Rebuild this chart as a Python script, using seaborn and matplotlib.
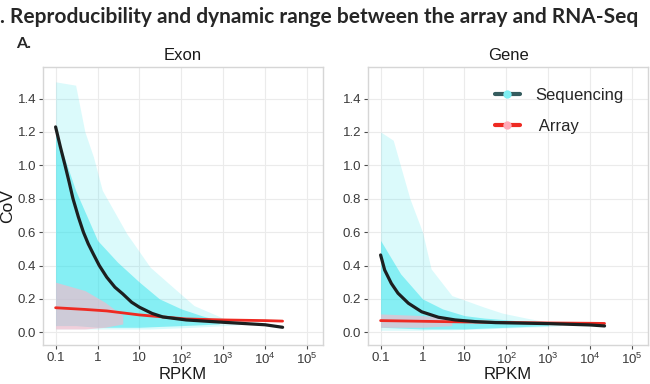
import numpy as np
import matplotlib
matplotlib.use("Agg")
import matplotlib.pyplot as plt
from matplotlib.lines import Line2D
import seaborn as sns

# fitted trend lines (RPKM, CoV)
exon_seq_x = [0.1, 0.13, 0.168, 0.21, 0.26, 0.35, 0.46, 0.6, 0.79, 1.1, 1.66, 2.6, 4, 6.5, 10, 20, 36, 130, 1000, 10000, 26000]
exon_seq_y = [1.23, 1.11, 1.0, 0.9, 0.80, 0.69, 0.6, 0.53, 0.47, 0.40, 0.33, 0.27, 0.23, 0.18, 0.15, 0.113, 0.092, 0.074, 0.06, 0.045, 0.03]
exon_arr_x = [0.1, 0.5, 1.66, 10, 130, 1000, 10000, 26000]
exon_arr_y = [0.147, 0.137, 0.128, 0.104, 0.08, 0.074, 0.07, 0.067]

gene_seq_x = [0.1, 0.125, 0.18, 0.26, 0.46, 0.95, 2.4, 6, 18, 55, 1000, 10000, 22000]
gene_seq_y = [0.463, 0.373, 0.293, 0.234, 0.174, 0.123, 0.09, 0.074, 0.064, 0.058, 0.052, 0.044, 0.038]
gene_arr_x = [0.1, 1, 10, 100, 1000, 10000, 22000]
gene_arr_y = [0.070, 0.066, 0.062, 0.059, 0.056, 0.054, 0.053]

# point clouds, read as envelopes (outer = sparse points, inner = dense core)
exon_cloud_x = [0.1, 0.3, 0.5, 0.8, 1.3, 5, 18, 63, 200, 1100, 2500]
exon_cloud_hi = [1.5, 1.48, 1.2, 1.05, 0.85, 0.59, 0.39, 0.27, 0.16, 0.08, 0.06]
exon_cloud_lo = [0.02, 0.02, 0.02, 0.02, 0.02, 0.02, 0.02, 0.025, 0.03, 0.04, 0.045]
exon_core_x = [0.1, 0.3, 1, 3, 10, 30, 100, 300, 800]
exon_core_hi = [1.2, 0.85, 0.55, 0.42, 0.3, 0.2, 0.14, 0.1, 0.07]
exon_core_lo = [0.04, 0.04, 0.03, 0.03, 0.03, 0.035, 0.04, 0.045, 0.05]
exon_pink_x = [0.1, 0.5, 1.5, 4]
exon_pink_hi = [0.3, 0.25, 0.18, 0.1]
exon_pink_lo = [0.02, 0.02, 0.03, 0.05]

gene_cloud_x = [0.1, 0.2, 0.5, 1, 1.6, 5, 30, 80, 300, 1250, 2000]
gene_cloud_hi = [1.2, 1.15, 0.8, 0.6, 0.38, 0.22, 0.15, 0.115, 0.085, 0.056, 0.05]
gene_cloud_lo = [0.012, 0.012, 0.012, 0.012, 0.015, 0.015, 0.02, 0.025, 0.03, 0.035, 0.04]
gene_core_x = [0.1, 0.3, 1, 3, 10, 30, 100, 300, 1000]
gene_core_hi = [0.55, 0.35, 0.2, 0.14, 0.1, 0.085, 0.075, 0.065, 0.055]
gene_core_lo = [0.03, 0.025, 0.02, 0.02, 0.02, 0.025, 0.03, 0.035, 0.04]
gene_pink_x = [0.1, 1, 5]
gene_pink_hi = [0.11, 0.1, 0.085]
gene_pink_lo = [0.03, 0.03, 0.04]

x_ticks = [0.1, 1, 10, 100, 1000, 10000, 100000]
x_labels = ['0.1', '1', '10', r'$\mathregular{10^{2}}$', r'$\mathregular{10^{3}}$',
            r'$\mathregular{10^{4}}$', r'$\mathregular{10^{5}}$']
y_ticks = [0.0, 0.2, 0.4, 0.6, 0.8, 1.0, 1.2, 1.4]

sns.set_theme(style='whitegrid')
plt.rcParams['font.family'] = ['Liberation Sans', 'DejaVu Sans']
plt.rcParams['mathtext.fontset'] = 'custom'
plt.rcParams['mathtext.rm'] = 'Liberation Sans'

CYAN = '#1fe3ec'
PINK = '#ffb3c6'
SEQ_LINE = '#1c1f1f'
ARR_LINE = '#ee2a22'

fig = plt.figure(figsize=(6.5, 3.84), dpi=100)
ax1 = fig.add_axes([0.0662, 0.1016, 0.4308, 0.724])
ax2 = fig.add_axes([0.5662, 0.1016, 0.4308, 0.724])

panels = [
    (ax1, 'Exon', exon_cloud_x, exon_cloud_hi, exon_cloud_lo, exon_core_x, exon_core_hi, exon_core_lo,
     exon_pink_x, exon_pink_hi, exon_pink_lo, exon_seq_x, exon_seq_y, exon_arr_x, exon_arr_y),
    (ax2, 'Gene', gene_cloud_x, gene_cloud_hi, gene_cloud_lo, gene_core_x, gene_core_hi, gene_core_lo,
     gene_pink_x, gene_pink_hi, gene_pink_lo, gene_seq_x, gene_seq_y, gene_arr_x, gene_arr_y),
]

for (ax, name, cx, chi, clo, kx, khi, klo, px, phi, plo, sx, sy, ax_, ay) in panels:
    ax.set_xscale('log')
    # clouds
    ax.fill_between(cx, clo, chi, color=CYAN, alpha=0.16, lw=0, zorder=1)
    ax.fill_between(kx, klo, khi, color=CYAN, alpha=0.45, lw=0, zorder=2)
    ax.fill_between(px, plo, phi, color=PINK, alpha=0.6, lw=0, zorder=3)
    # trend lines
    sns.lineplot(x=sx, y=sy, ax=ax, color=SEQ_LINE, lw=2.3, zorder=5)
    sns.lineplot(x=ax_, y=ay, ax=ax, color=ARR_LINE, lw=2.0, zorder=4)

    ax.set_xlim(10 ** -1.3, 10 ** 5.38)
    ax.set_ylim(-0.076, 1.589)
    ax.set_xticks(x_ticks)
    ax.set_xticklabels(x_labels)
    ax.set_yticks(y_ticks)
    ax.set_yticklabels([f'{v:.1f}' for v in y_ticks])
    ax.minorticks_off()
    ax.tick_params(axis='both', which='major', labelsize=9.5, colors='#4d4d4d',
                   length=3, width=0.8, pad=2, bottom=True, left=True)
    ax.tick_params(axis='both', labelcolor='#3a3a3a')
    ax.grid(True, color='#ebebeb', lw=0.8)
    for s in ax.spines.values():
        s.set_color('#d6d6d6')
        s.set_linewidth(1.0)
    ax.set_title(name, fontsize=12, pad=5, color='#1a1a1a')
    ax.set_xlabel('RPKM', fontsize=12, color='#1a1a1a', labelpad=0)

ax1.set_ylabel('CoV', fontsize=12.5, color='#1a1a1a', labelpad=2)
ax2.set_ylabel('')

handles = [
    Line2D([0], [0], color='#355c5e', lw=3, marker='o', markersize=6,
           markerfacecolor='#7eeef2', markeredgecolor='none'),
    Line2D([0], [0], color=ARR_LINE, lw=3, marker='o', markersize=6,
           markerfacecolor='#ffaab8', markeredgecolor='none'),
]
ax2.legend(handles, ['Sequencing', ' Array'], loc='upper right', bbox_to_anchor=(0.965, 0.98),
           frameon=False, fontsize=12, handlelength=1.5, labelspacing=1.0, handletextpad=0.9)

fig.text(0.0, 0.956, '. Reproducibility and dynamic range between the array and RNA-Seq',
         fontsize=15, fontweight='bold', family=['Lato', 'DejaVu Sans'], va='center', ha='left')
fig.text(0.024, 0.885, 'A.', fontsize=11.5, fontweight='bold', family=['Lato', 'DejaVu Sans'],
         va='center', ha='left')

fig.savefig('out.png', dpi=100)
